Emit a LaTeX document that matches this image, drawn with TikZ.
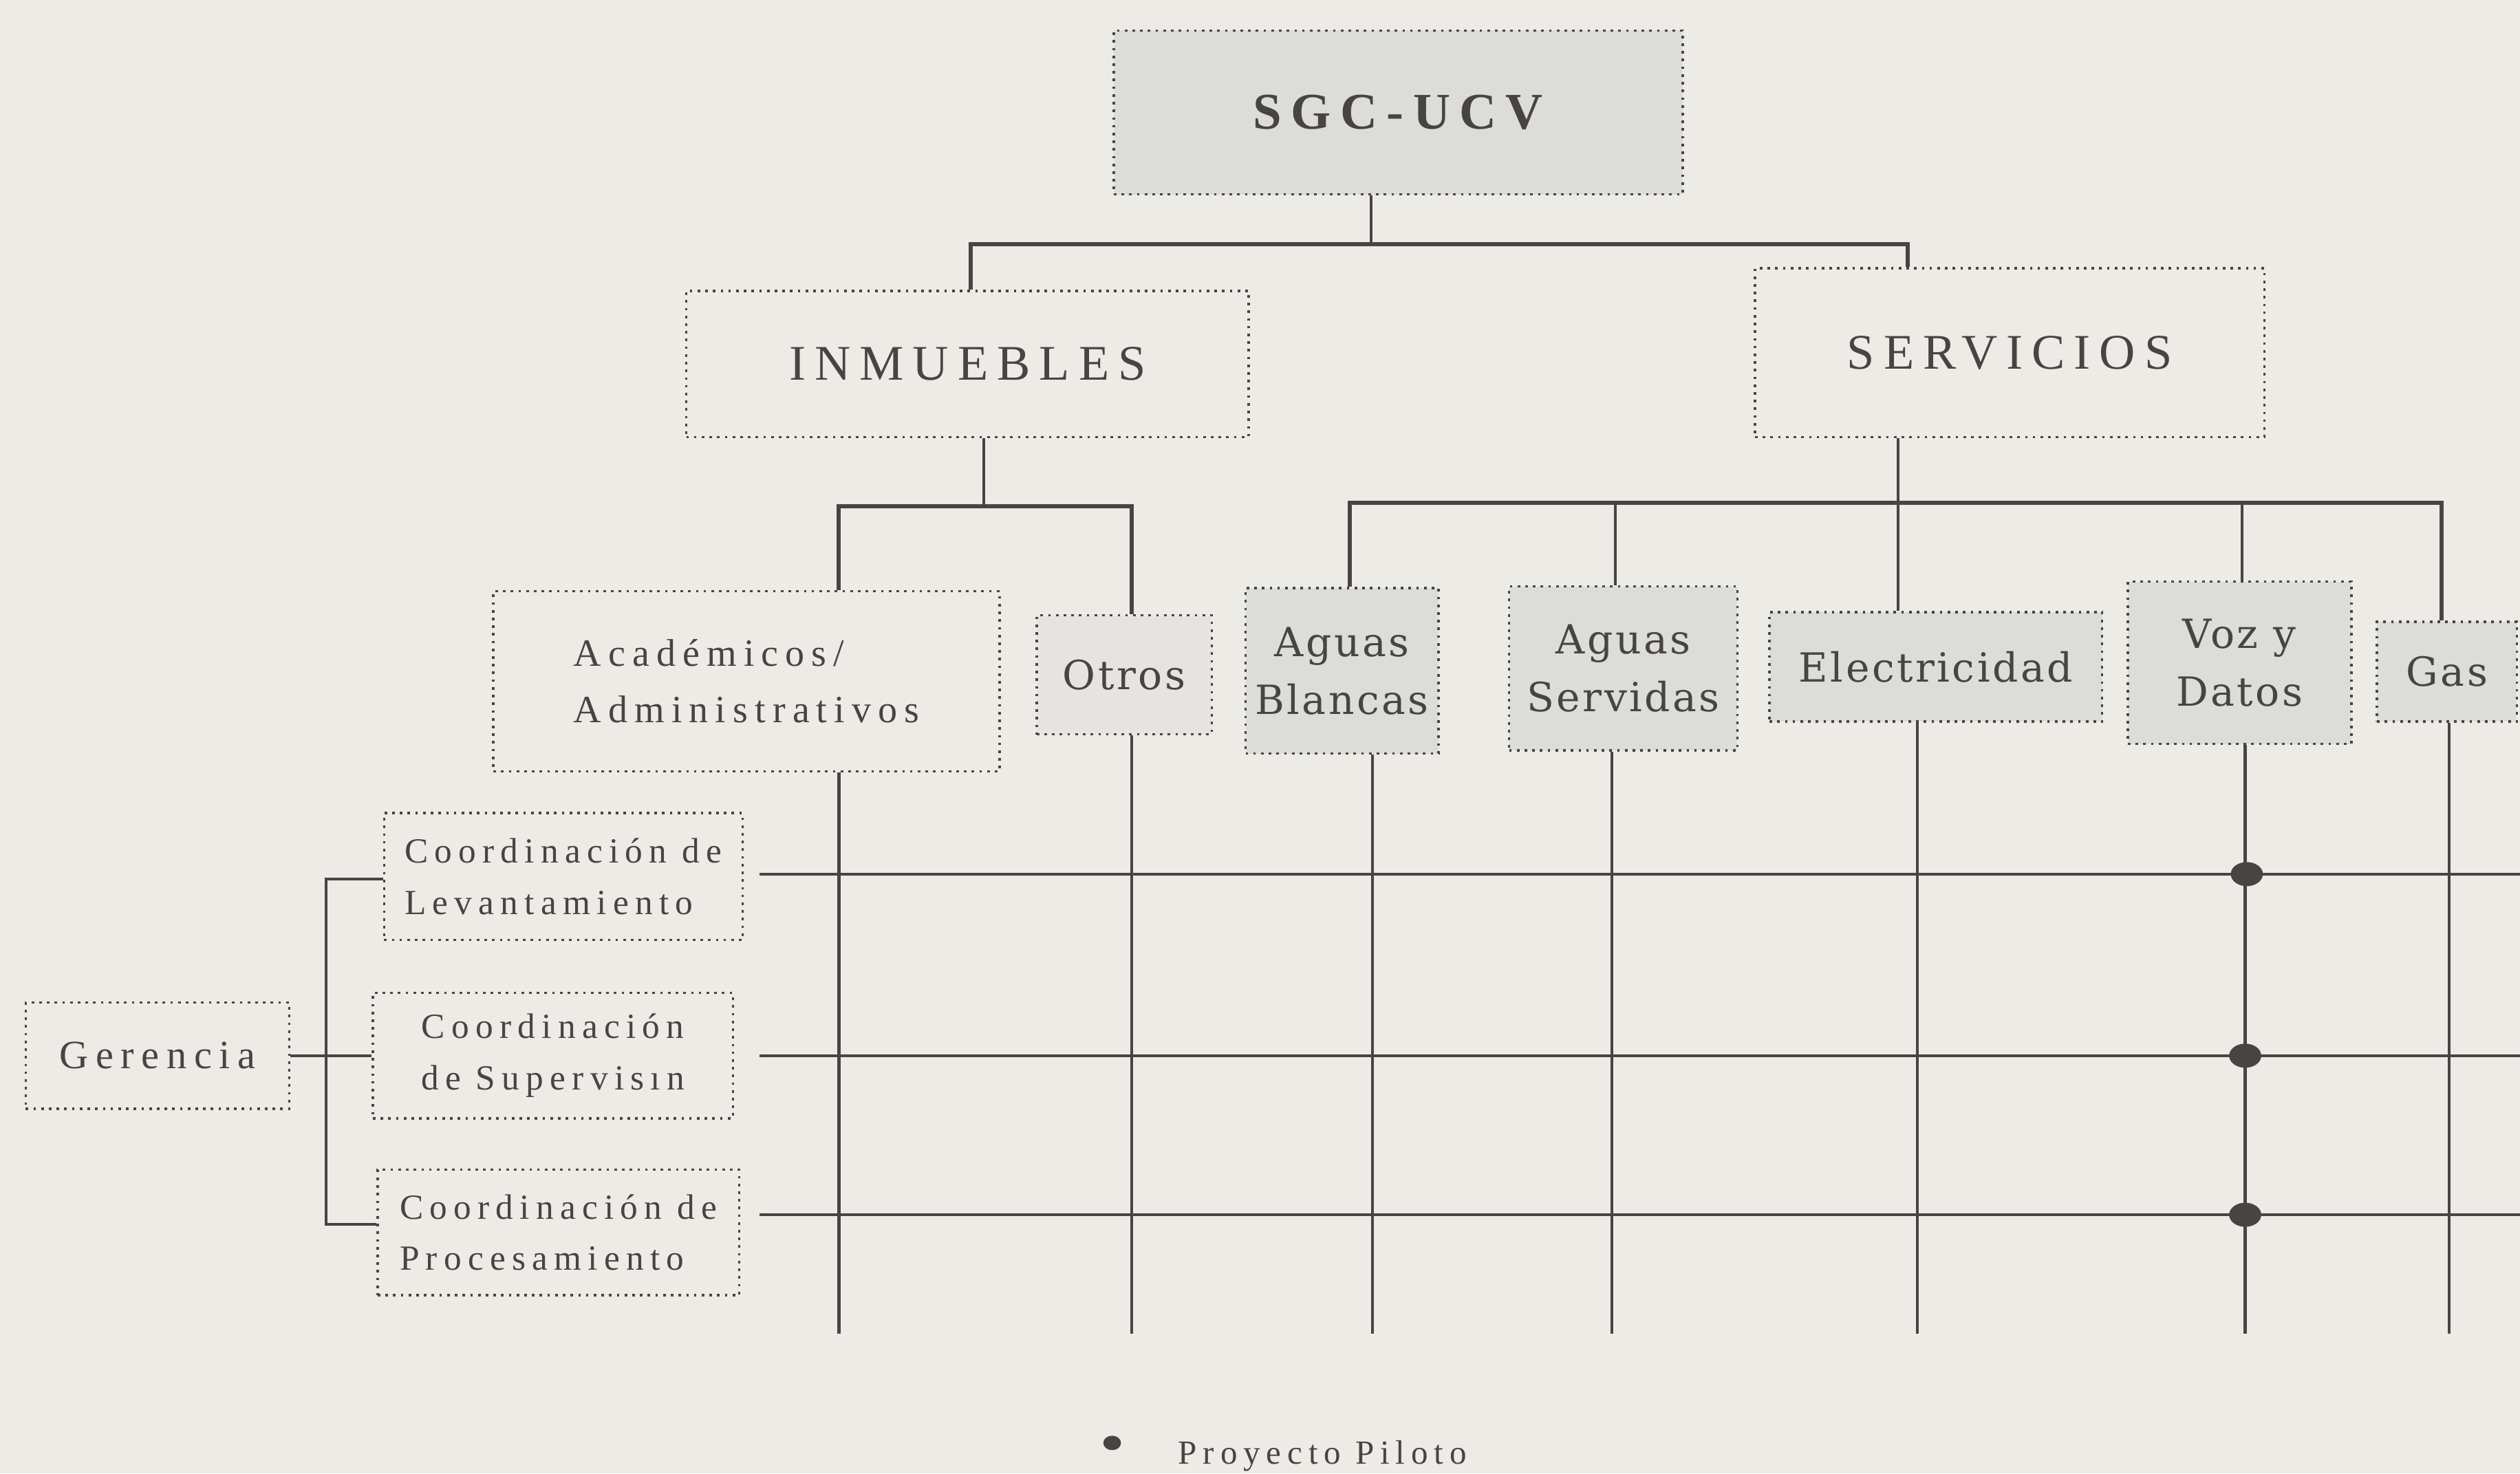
\documentclass[tikz,border=0pt]{standalone}
\usepackage{fontspec}
\setmainfont{Liberation Serif}
\newfontfamily\spf[LetterSpace=18]{Liberation Serif}
\newfontfamily\slabf[LetterSpace=6]{DejaVu Serif}
\usetikzlibrary{calc,shapes.geometric}
\definecolor{bgc}{RGB}{236,235,230}
\definecolor{ink}{RGB}{72,68,68}
\definecolor{shade}{RGB}{220,220,217}
\tikzset{
  box/.style={draw=ink, line width=1.5pt, dash pattern=on 1.6pt off 3.2pt, inner sep=0pt, text=ink, anchor=center},
  sbox/.style={box, fill=shade},
  serif/.style={font={\spf\fontsize{#1}{#1*1.45}\selectfont}},
  slab/.style={font={\slabf\fontsize{#1}{36}\selectfont}},
  conn/.style={draw=ink, line width=1.8pt},
  hconn/.style={draw=ink, line width=2.6pt},
  gridl/.style={draw=ink, line width=1.8pt},
  pdot/.style={ellipse, fill=ink, minimum width=20pt, minimum height=15pt, inner sep=0pt},
  ldot/.style={ellipse, fill=ink, minimum width=11pt, minimum height=9pt, inner sep=0pt}
}
\begin{document}
\begin{tikzpicture}[x=1pt,y=-1pt]
\useasboundingbox (0,0) rectangle (1568,917);
\fill[bgc] (0,0) rectangle (1568,917);

% ---------- boxes ----------
\node[sbox, minimum width=354pt, minimum height=102pt, font={\spf\fontsize{32}{38}\selectfont\bfseries}] (sgc) at (870,70) {SGC-UCV};
\node[box, minimum width=350pt, minimum height=91pt, font={\spf\fontsize{31}{36}\selectfont}] (inm) at (602,226.5) {INMUEBLES};
\node[box, minimum width=317pt, minimum height=105pt, font={\spf\fontsize{31}{36}\selectfont}] (serv) at (1250.5,219.5) {SERVICIOS};

\node[box, minimum width=315pt, minimum height=112pt, align=left, font={\spf\fontsize{24}{35}\selectfont}] (acad) at (464.5,424)
  {Académicos/\\Administrativos};
\node[sbox, fill=shade!45!bgc, minimum width=109pt, minimum height=74pt, font={\slabf\fontsize{25}{36}\selectfont}] (otros) at (699.5,420) {Otros};
\node[sbox, minimum width=120pt, minimum height=103pt, align=center, font={\slabf\fontsize{25}{36}\selectfont}] (ablan) at (835,417.5) {Aguas\\Blancas};
\node[sbox, minimum width=142pt, minimum height=102pt, align=center, font={\slabf\fontsize{25}{36}\selectfont}] (aserv) at (1010,416) {Aguas\\Servidas};
\node[sbox, minimum width=207pt, minimum height=68pt, font={\slabf\fontsize{25}{36}\selectfont}] (elec) at (1204.5,415) {Electricidad};
\node[sbox, minimum width=139pt, minimum height=101pt, align=center, font={\slabf\fontsize{25}{36}\selectfont}] (voz) at (1393.5,412.5) {Voz y\\Datos};
\node[sbox, minimum width=87pt, minimum height=62pt, font={\slabf\fontsize{25}{36}\selectfont}] (gas) at (1522.5,418) {Gas};

\node[box, minimum width=223pt, minimum height=79pt, align=left, font={\spf\fontsize{22}{32}\selectfont}] (lev) at (350.5,545.5)
  {Coordinación de\\Levantamiento};
\node[box, minimum width=224pt, minimum height=78pt, align=center, font={\spf\fontsize{22}{32}\selectfont}] (sup) at (344,657)
  {Coordinación\\de Supervisın};
\node[box, minimum width=225pt, minimum height=78pt, align=left, font={\spf\fontsize{22}{32}\selectfont}] (proc) at (347.5,767)
  {Coordinación de\\Procesamiento};
\node[box, minimum width=164pt, minimum height=66pt, font={\spf\fontsize{25}{30}\selectfont}] (ger) at (98,657) {Gerencia};

% ---------- helper coordinates ----------
\coordinate (j0) at (853,152);
\coordinate (j1) at (612,315);
\coordinate (j2) at (1181,313);
\coordinate (bot) at (0,830);
\coordinate (redge) at (1568,0);
\coordinate (gx) at (203,0);

% ---------- tree connectors ----------
\draw[conn] (sgc.south -| j0) -- (j0);
\draw[hconn] (inm.north -| 604,0) |- (j0) -| (serv.north -| 1187,0);
\draw[conn] (inm.north -| 604,0) -- (604,152);
\draw[conn] (serv.north -| 1187,0) -- (1187,152);

\draw[conn] (inm.south -| j1) -- (j1);
\draw[hconn] (acad.north -| 522,0) |- (j1) -| (otros.north -| 704,0);
\draw[conn] (acad.north -| 522,0) -- (522,315);
\draw[conn] (otros.north -| 704,0) -- (704,315);

\draw[conn] (serv.south -| j2) -- (j2);
\draw[hconn] (ablan.north -| 840,0) |- (j2) -| (gas.north -| 1519,0);
\draw[conn] (ablan.north -| 840,0) -- (840,313);
\draw[conn] (gas.north -| 1519,0) -- (1519,313);
\draw[conn] (aserv.north -| 1005,0) -- (j2 -| 1005,0);
\draw[conn] (elec.north -| j2) -- (j2);
\draw[conn] (voz.north -| 1395,0) -- (j2 -| 1395,0);

% ---------- vertical grid lines ----------
\draw[gridl] (acad.south -| 522,0) -- (bot -| 522,0);
\draw[gridl] (otros.south -| 704,0) -- (bot -| 704,0);
\draw[gridl] (ablan.south -| 854,0) -- (bot -| 854,0);
\draw[gridl] (aserv.south -| 1003,0) -- (bot -| 1003,0);
\draw[gridl] (elec.south -| 1193,0) -- (bot -| 1193,0);
\draw[gridl] (voz.south -| 1397,0) -- (bot -| 1397,0);
\draw[gridl] (gas.south -| 1524,0) -- (bot -| 1524,0);

% ---------- horizontal grid lines ----------
\coordinate (lw) at ([xshift=10pt,yshift=1.5pt]lev.east);
\coordinate (sw) at ([xshift=16pt]sup.east);
\coordinate (pw) at ([xshift=12pt,yshift=11pt]proc.east);
\draw[gridl] (lw) -- (lw -| redge);
\draw[gridl] (sw) -- (sw -| redge);
\draw[gridl] (pw) -- (pw -| redge);

% ---------- gerencia connectors ----------
\coordinate (pl) at ([yshift=5pt]proc.west);
\coordinate (ll) at ([yshift=-1.5pt]lev.west);
\draw[conn] (ll) -| (pl -| gx) -- (pl);
\draw[conn] (ger.east) -- (sup.west);

% ---------- pilot dots ----------
\node[pdot] (p1) at (lw -| 1398,0) {};
\node[pdot] (p2) at (sw -| 1397,0) {};
\node[pdot] (p3) at (pw -| 1397,0) {};

% ---------- legend ----------
\node[ldot] (ld) at (692,898) {};
\node[anchor=west, text=ink, inner sep=0pt, font={\spf\fontsize{21}{24}\selectfont}] (lt) at (733,906) {Proyecto Piloto};
\end{tikzpicture}
\end{document}
